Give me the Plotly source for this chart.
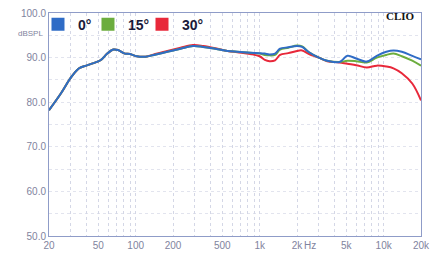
import plotly.graph_objects as go
import math

freq = [20, 25, 30, 35, 40, 45, 52, 59, 66, 72,
        82, 90, 102, 120, 140, 180, 230, 290, 350, 440,
        550, 660, 840, 1000, 1100, 1200, 1330, 1460, 1700, 2000,
        2200, 2500, 3000, 3500, 4400, 5100, 6000, 7300, 8800, 10500,
        12000, 14000, 17000, 20000]

spl_0 = [78.2, 82.0, 85.5, 87.6, 88.2, 88.7, 89.4, 90.9, 91.8, 91.7,
         90.9, 90.8, 90.3, 90.2, 90.6, 91.3, 92.0, 92.6, 92.4, 92.0,
         91.5, 91.3, 91.1, 91.0, 90.9, 90.7, 90.9, 92.0, 92.3, 92.6,
         92.4, 91.2, 90.0, 89.3, 89.0, 90.4, 89.8, 89.1, 90.4, 91.3,
         91.6, 91.3, 90.4, 89.6]

spl_15 = [78.2, 82.0, 85.5, 87.6, 88.2, 88.7, 89.4, 90.9, 91.8, 91.7,
          90.9, 90.8, 90.3, 90.2, 90.6, 91.3, 92.0, 92.6, 92.4, 92.0,
          91.5, 91.3, 91.1, 90.9, 90.6, 90.5, 90.6, 91.8, 92.2, 92.7,
          92.5, 91.2, 90.0, 89.3, 89.0, 89.3, 89.2, 88.9, 90.0, 90.6,
          90.9, 90.3, 89.3, 88.2]

spl_30 = [78.2, 82.0, 85.5, 87.6, 88.2, 88.7, 89.4, 90.9, 91.8, 91.7,
          90.9, 90.8, 90.3, 90.2, 90.7, 91.5, 92.2, 92.8, 92.6, 92.1,
          91.5, 91.2, 90.8, 90.3, 89.5, 89.2, 89.4, 90.6, 91.0, 91.5,
          91.6, 90.8, 90.0, 89.2, 88.9, 88.6, 88.3, 87.8, 88.2, 88.0,
          87.6, 86.5, 84.2, 80.4]

series_names = ["0°", "15°", "30°"]
series_colors = ["#2f6cc6", "#6cad3e", "#e8283a"]

tick_vals = [20, 30, 40, 50, 60, 70, 80, 90, 100, 200, 300, 400, 500, 600, 700, 800, 900,
             1000, 2000, 3000, 4000, 5000, 6000, 7000, 8000, 9000, 10000, 20000]
tick_text = ["20", "", "", "50", "", "", "", "", "100", "200", "", "", "500", "", "", "", "",
             "1k", "2k", "", "", "5k", "", "", "", "", "10k", "20k"]
y_ticks = [50, 60, 70, 80, 90, 100]
y_text = ["50.0", "60.0", "70.0", "80.0", "90.0", "100.0"]

fig = go.Figure()

# draw red first, then green, then blue on top
for vals, name, color in [(spl_30, series_names[2], series_colors[2]),
                          (spl_15, series_names[1], series_colors[1]),
                          (spl_0, series_names[0], series_colors[0])]:
    fig.add_trace(go.Scatter(x=freq, y=vals, mode="lines", line=dict(color=color, width=2, shape="spline"),
                             showlegend=False, hoverinfo="skip"))

legend_ids = ["legend", "legend2", "legend3"]
for name, color, lid in zip(series_names, series_colors, legend_ids):
    fig.add_trace(go.Scatter(x=[None], y=[None], mode="markers", name=name, legend=lid,
                             marker=dict(symbol="square", size=13, color=color)))

tick_color = "#7f849e"
legend_font = dict(size=14, color="#1a1a3a", family="Liberation Sans", weight="bold")


def legend_box(xpos):
    return dict(orientation="h", x=xpos, y=1.02, xanchor="left", yanchor="top",
                bgcolor="rgba(255,255,255,0)", font=legend_font, itemwidth=30)


# the page body adds an 8px offset; the figure is sized to fill the rest of the window
fig.update_layout(
    width=430, height=249,
    margin=dict(l=41, r=17, t=5, b=21, autoexpand=False),
    paper_bgcolor="white", plot_bgcolor="white",
    font=dict(family="Liberation Sans", size=10, color=tick_color),
    legend=legend_box(-0.0296),
    legend2=legend_box(0.1048),
    legend3=legend_box(0.2500),
    xaxis=dict(type="log", range=[math.log10(20), math.log10(20000)],
               tickvals=tick_vals, ticktext=tick_text, ticks="",
               showgrid=True, gridcolor="#d4d7e6", griddash="dot", gridwidth=1,
               showline=True, linecolor="#8f9cc8", linewidth=1, mirror=True,
               zeroline=False, tickfont=dict(size=10, color=tick_color)),
    yaxis=dict(range=[50, 100], tickvals=y_ticks, ticktext=y_text, ticks="",
               showgrid=False, showline=True, linecolor="#8f9cc8", linewidth=1, mirror=True,
               zeroline=False, tickfont=dict(size=10, color=tick_color), ticklabeloverflow="allow",
               minor=dict(dtick=5, showgrid=True, gridcolor="#e2e4ee", griddash="dot", gridwidth=1)),
    showlegend=True,
)

fig.add_annotation(text="Hz", xref="x", yref="paper", x=math.log10(2550), y=0, yanchor="middle", yshift=-9,
                   showarrow=False, font=dict(size=10, color=tick_color))
fig.add_annotation(text="dBSPL", xref="paper", yref="y", x=0, y=95.3, xanchor="right", xshift=-4,
                   showarrow=False, font=dict(size=8, color=tick_color))
fig.add_annotation(text="<b>CLIO</b>", xref="paper", yref="paper", x=1, y=1, xanchor="right", yanchor="middle",
                   xshift=-4, yshift=-3, showarrow=False,
                   font=dict(size=11, color="#111111", family="Liberation Serif"))

fig.write_html("out.html")
